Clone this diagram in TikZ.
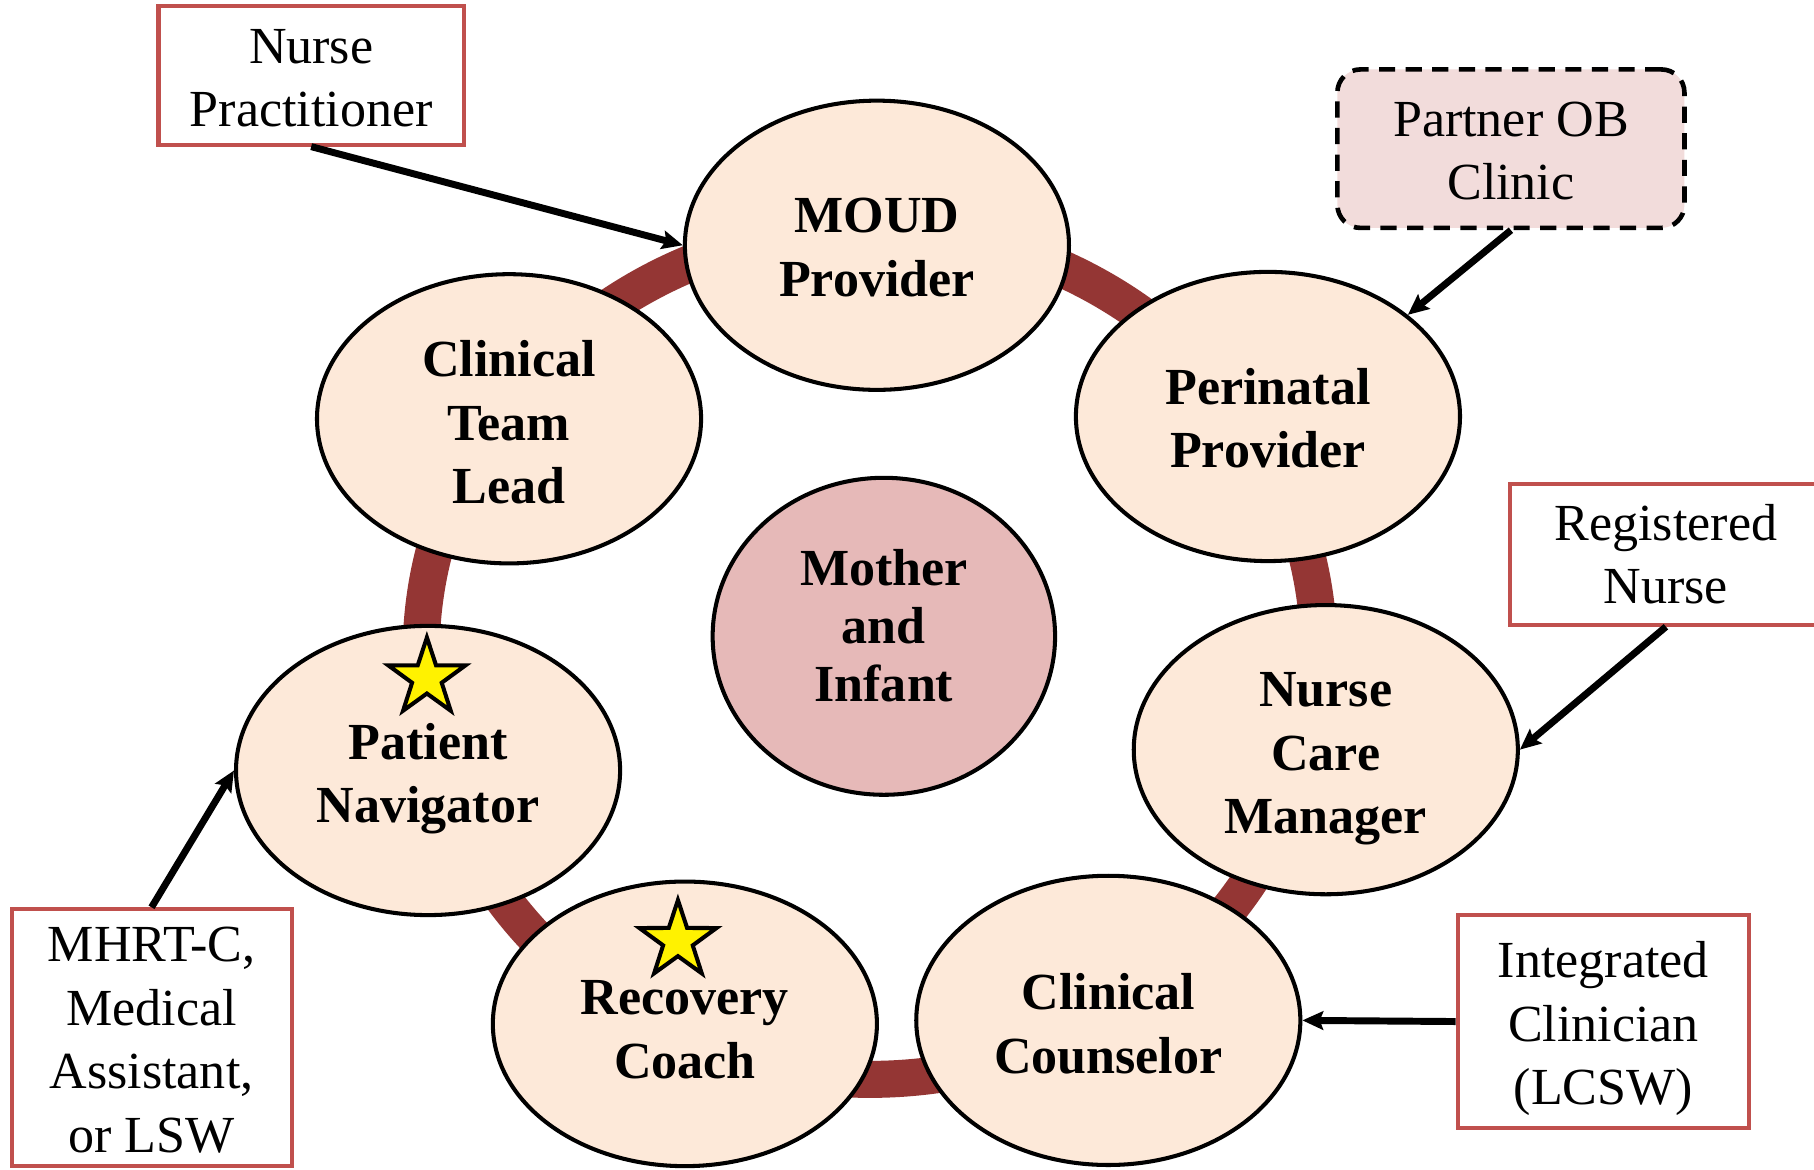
\documentclass[tikz,border=0pt]{standalone}
\usepackage{fontspec}
\setmainfont{Liberation Serif}
\usetikzlibrary{shapes.geometric,arrows.meta}
\definecolor{peach}{HTML}{FDE9D9}
\definecolor{ringred}{HTML}{943634}
\definecolor{boxred}{HTML}{C0504D}
\definecolor{obpink}{HTML}{F2DCDB}
\definecolor{mothfill}{HTML}{E6B9B8}
\begin{document}
\begin{tikzpicture}[x=0.5pt,y=-0.5pt,
  role/.style={ellipse, draw=black, line width=1.75pt, fill=peach,
    minimum width=166pt, minimum height=125pt, inner sep=0pt},
  roletext/.style={align=center, inner sep=0pt,
    font=\fontsize{22.5}{27.5}\selectfont\bfseries},
  tag/.style={rectangle, draw=boxred, line width=1.75pt, fill=white,
    align=center, inner sep=0pt, font=\fontsize{22.5}{27.5}\selectfont},
  tagtext/.style={align=center, inner sep=0pt, font=\fontsize{22.5}{27.5}\selectfont},
  conn/.style={-{Stealth[length=9pt,width=8pt,inset=1.5pt]}, line width=3pt, black},
  ring/.style={ringred, line width=16pt},
  starmark/.style={star, star points=5, star point ratio=2.6, draw=black,
    fill=yellow, line width=1.75pt, minimum size=35pt, inner sep=0pt}]
\useasboundingbox (0,0) rectangle (1568,1011);
\fill[white] (0,0) rectangle (1568,1011);
% ring
\draw[ring] (752,565) ellipse [x radius=388, y radius=368];
% roles
\node[role] (moud) at (758,212) {};
\node[roletext] (moudt) at (758,214) {MOUD\\Provider};
\node[role] (ctl) at (440,362) {};
\node[roletext] (ctlt) at (440,365) {Clinical\\Team\\Lead};
\node[role] (pp) at (1096,360) {};
\node[roletext] (ppt) at (1096,361.5) {Perinatal\\Provider};
\node[role, fill=mothfill, minimum width=148pt, minimum height=137pt] (mi) at (764,550) {};
\node[roletext, font=\fontsize{22.5}{25}\selectfont\bfseries] (mit) at (764,541) {Mother\\and\\Infant};
\node[role] (pn) at (370,666) {};
\node[roletext] (pnt) at (370,673) {Patient\\Navigator};
\node[role] (ncm) at (1146,648) {};
\node[roletext] (ncmt) at (1146,656) {Nurse\\Care\\Manager};
\node[role, minimum height=123pt] (rc) at (592,885) {};
\node[roletext] (rct) at (592,890) {Recovery\\Coach};
\node[role] (cc) at (958,882) {};
\node[roletext] (cct) at (958,885) {Clinical\\Counselor};
% stars
\node[starmark] (s1) at (369,586) {};
\node[starmark] (s2) at (586,813) {};
% tags
\node[tag, minimum width=132pt, minimum height=60pt] (np) at (269,65) {};
\node[tagtext] (npt) at (269,67.5) {Nurse\\Practitioner};
\node[tag, draw=black, line width=2pt, dash pattern=on 7pt off 4.5pt, rounded corners=10pt,
  fill=obpink, minimum width=150pt, minimum height=68.5pt] (ob) at (1306,128.5) {};
\node[tagtext] (obt) at (1306,130.5) {Partner OB\\Clinic};
\node[tag, minimum width=135pt, minimum height=61pt] (rn) at (1440,479) {Registered\\Nurse};
\node[tag, minimum width=121pt, minimum height=111pt] (mh) at (131,897) {};
\node[tagtext] (mht) at (131,899) {MHRT-C,\\Medical\\Assistant,\\or LSW};
\node[tag, minimum width=126pt, minimum height=92pt] (ic) at (1386,883) {};
\node[tagtext] (ict) at (1386,889) {Integrated\\Clinician\\(LCSW)};
% connectors
\draw[conn] (np.south) -- (moud.west);
\draw[conn] (ob.south) -- (pp.36);
\draw[conn] (rn.south) -- (ncm.east);
\draw[conn] (mh.north) -- (pn.west);
\draw[conn] (ic.west) -- (cc.east);
\end{tikzpicture}
\end{document}
